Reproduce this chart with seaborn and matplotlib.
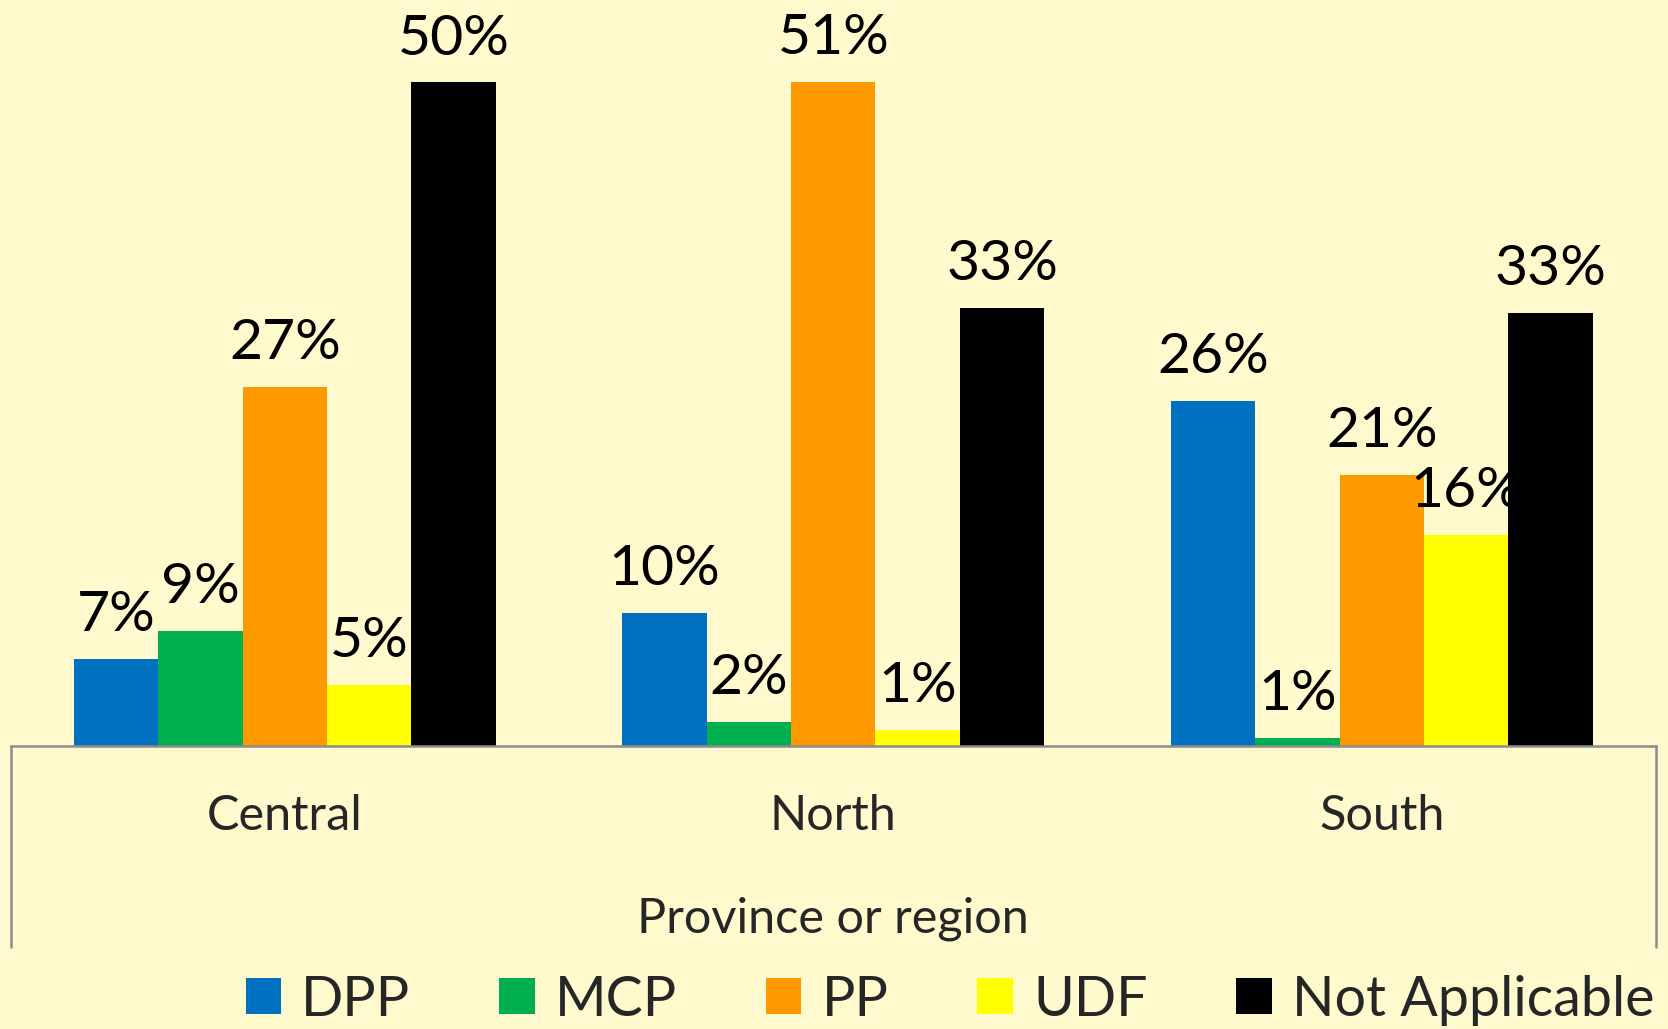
import matplotlib
matplotlib.use("Agg")
import matplotlib.pyplot as plt
from matplotlib.patches import Patch
import seaborn as sns
import pandas as pd

regions = ["Central", "North", "South"]
parties = ["DPP", "MCP", "PP", "UDF", "Not Applicable"]
dpp = [6.6, 10.1, 26.2]
mcp = [8.7, 1.8, 0.6]
pp = [27.3, 50.53, 20.6]
udf = [4.6, 1.2, 16.0]
not_applicable = [50.46, 33.3, 32.9]
party_colors = ["#0070C0", "#00B050", "#FF9900", "#FFFF00", "#000000"]
x_title = "Province or region"

series = [dpp, mcp, pp, udf, not_applicable]
rows = []
for party, vals in zip(parties, series):
    for reg, v in zip(regions, vals):
        rows.append({"region": reg, "party": party, "value": v})
df = pd.DataFrame(rows)

sns.set_style("white")
plt.rcParams["font.family"] = ["Lato", "DejaVu Sans"]

bg = "#FFFACD"
W, H = 1668, 1029
fig = plt.figure(figsize=(W / 100, H / 100), dpi=100, facecolor=bg)
ax = fig.add_axes([10.6 / W, 1 - 745.5 / H, (1656 - 10.6) / W, 745.5 / H])
ax.set_facecolor(bg)

sns.barplot(data=df, x="region", y="value", hue="party", order=regions,
            hue_order=parties, palette=party_colors, saturation=1,
            width=5 / 6.5, linewidth=0, ax=ax, legend=False)

ax.set_xlim(-0.5, 2.5)
ax.set_ylim(0, 745.5 / 13.14)

for cont in ax.containers:
    anns = ax.bar_label(cont, labels=[f"{b.get_height():.0f}%" for b in cont],
                        padding=20, fontsize=41, color="black")
    for a in anns:
        a.set_va("baseline")

for side in ["top", "left", "right"]:
    ax.spines[side].set_visible(False)
ax.spines["bottom"].set_color("#8c8c8c")
ax.spines["bottom"].set_linewidth(1.8)
ax.set_yticks([])
ax.set_ylabel("")
ax.tick_params(axis="x", length=0, pad=35, labelsize=35)
ax.set_xlabel(x_title, fontsize=35, labelpad=42)

ybot = -(947 - 745.5) / 745.5
for xx in (0, 1):
    ax.plot([xx, xx], [0, ybot], transform=ax.transAxes, color="#8c8c8c",
            lw=1.8, clip_on=False)

handles = [Patch(facecolor=c, edgecolor="none") for c in party_colors]
fig.legend(handles, parties, loc="center", bbox_to_anchor=(0.5695, 1 - 1000 / H),
           ncol=5, frameon=False, fontsize=40, handlelength=0.64,
           handleheight=0.64, handletextpad=0.36, columnspacing=1.6,
           borderpad=0, borderaxespad=0)

fig.savefig("out.png", dpi=100, facecolor=bg)
